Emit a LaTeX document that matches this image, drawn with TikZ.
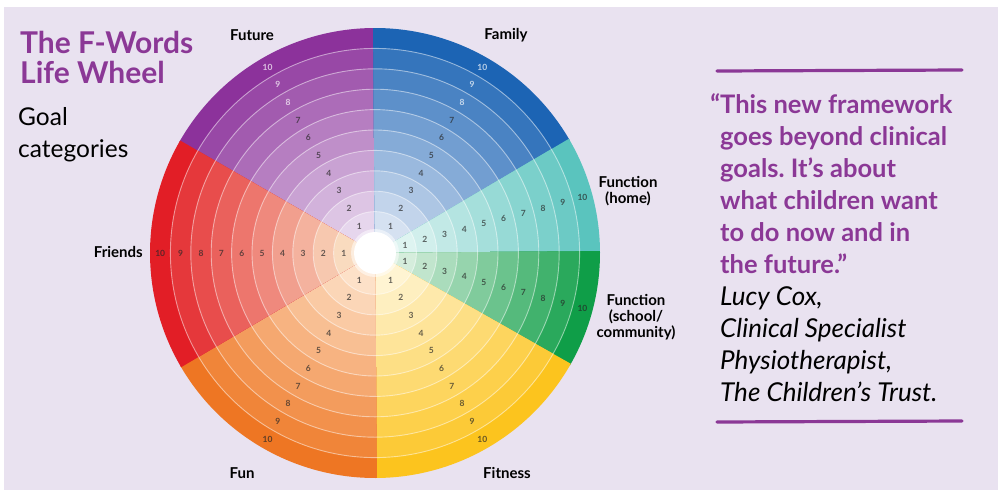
\documentclass[tikz,border=0pt]{standalone}
\usepackage{fontspec}
\setmainfont{Lato}
\frenchspacing
\definecolor{bg}{RGB}{233,226,240}
\definecolor{fpurple}{RGB}{139,56,150}
\definecolor{cFuture}{RGB}{140,50,155}
\definecolor{cFamily}{RGB}{28,100,180}
\definecolor{cHome}{RGB}{90,196,190}
\definecolor{cSchool}{RGB}{15,158,72}
\definecolor{cFitness}{RGB}{252,196,30}
\definecolor{cFun}{RGB}{238,118,35}
\definecolor{cFriends}{RGB}{226,30,38}
\definecolor{wFuture}{RGB}{242,236,248}
\definecolor{wFamily}{RGB}{238,242,250}
\definecolor{wHome}{RGB}{240,250,248}
\definecolor{wSchool}{RGB}{240,248,240}
\definecolor{wFitness}{RGB}{255,250,235}
\definecolor{wFun}{RGB}{255,240,222}
\definecolor{wFriends}{RGB}{252,245,212}
\tikzset{
  lab/.style={font=\fontsize{15}{16}\selectfont\bfseries, text=black, inner sep=0pt},
  num/.style={font=\fontsize{8.5}{8.5}\selectfont\bfseries, inner sep=0pt, text opacity=0.7},
  qbold/.style={font=\fontsize{25.5}{25.5}\selectfont\bfseries, text=fpurple, anchor=base west, inner sep=0pt},
  qital/.style={font=\fontsize{26}{26}\selectfont\itshape, text=black, anchor=base west, inner sep=0pt},
  brush/.style={fpurple, line width=3.2pt, line cap=round}
}
\begin{document}
\begin{tikzpicture}[x=1pt,y=-1pt]
\useasboundingbox (0,0) rectangle (1001,490);
\fill[white] (0,0) rectangle (1001,490);
\fill[bg] (4,7) rectangle (998,490);

% ---------- wheel ----------
\begin{scope}[shift={(375pt,-253pt)}, y=1pt]
  \foreach \a/\b/\c/\w in {90/150.5/cFuture/wFuture, 30/90.5/cFamily/wFamily, 0/30.5/cHome/wHome, -30/0.5/cSchool/wSchool, -90/-29.5/cFitness/wFitness, -150/-89.5/cFun/wFun, 150/210.5/cFriends/wFriends}{
    \foreach \k in {10,9,...,1}{
      \pgfmathtruncatemacro\p{\k==10 ? 100 : 12+(\k-1)*9.5}
      \pgfmathsetmacro\R{21+\k*20.4}
      \fill[\c!\p!\w] (0,0) -- (\a:\R) arc[start angle=\a, end angle=\b, radius=\R] -- cycle;
    }
  }
  \foreach \k in {1,...,9}{
    \pgfmathsetmacro\R{21+\k*20.4}
    \draw[white, opacity=0.5, line width=0.9pt] (0,0) circle[radius=\R];
  }
  \fill[white, opacity=0.5] (0,0) circle[radius=24];
  \fill[white] (0,0) circle[radius=21];
  \foreach \m/\s in {120/fu, 60/fa, 15/fh, -15/fs, -60/fi, 240/fn, 180/fr}{
    \foreach \k in {1,...,10}{
      \pgfmathtruncatemacro\lt{(\k>7 && (\m==120 || \m==60)) ? 1 : 0}
      \ifnum\lt=1 \def\numcol{white}\else\def\numcol{black!85}\fi
      \pgfmathsetmacro\R{21+(\k-0.5)*20.4}
      \node[num, text=\numcol] (n\s\k) at (\m:\R) {\k};
    }
  }
\end{scope}

% ---------- sector labels ----------
\node[lab] (lFuture) at (252,35) {Future};
\node[lab] (lFamily) at (506,35) {Family};
\node[lab, align=center] (lHome) at (628,191) {Function\\(home)};
\node[lab, align=center] (lSchool) at (636,317) {Function\\(school/\\community)};
\node[lab, anchor=east] (lFriends) at (143,252) {Friends};
\node[lab] (lFun) at (242,473) {Fun};
\node[lab] (lFitness) at (507,473) {Fitness};

% ---------- title ----------
\node[font=\fontsize{30}{30}\selectfont\bfseries, text=fpurple, anchor=base west, inner sep=0pt] (t1) at (20,53) {The F-Words};
\node[font=\fontsize{30}{30}\selectfont\bfseries, text=fpurple, anchor=base west, inner sep=0pt] (t2) at (20,83) {Life Wheel};
\node[font=\fontsize{24.5}{24.5}\selectfont, anchor=base west, inner sep=0pt] (g1) at (18,125) {Goal};
\node[font=\fontsize{24.5}{24.5}\selectfont, anchor=base west, inner sep=0pt] (g2) at (18,157) {categories};

% ---------- quote ----------
\draw[brush] (717,71) -- (962,70);
\node[qbold] (q1) at (720,113) {\llap{“}This new framework};
\node[qbold] (q2) at (720,145) {goes beyond clinical};
\node[qbold] (q3) at (720,177) {goals. It’s about};
\node[qbold] (q4) at (720,209) {what children want};
\node[qbold] (q5) at (720,241) {to do now and in};
\node[qbold] (q6) at (720,273) {the future.”};
\node[qital] (q7) at (720,305) {Lucy Cox,};
\node[qital] (q8) at (720,337) {Clinical Specialist};
\node[qital] (q9) at (720,369) {Physiotherapist,};
\node[qital] (q10) at (720,401) {The Children’s Trust.};
\draw[brush] (717,422) -- (962,421);
\end{tikzpicture}
\end{document}
